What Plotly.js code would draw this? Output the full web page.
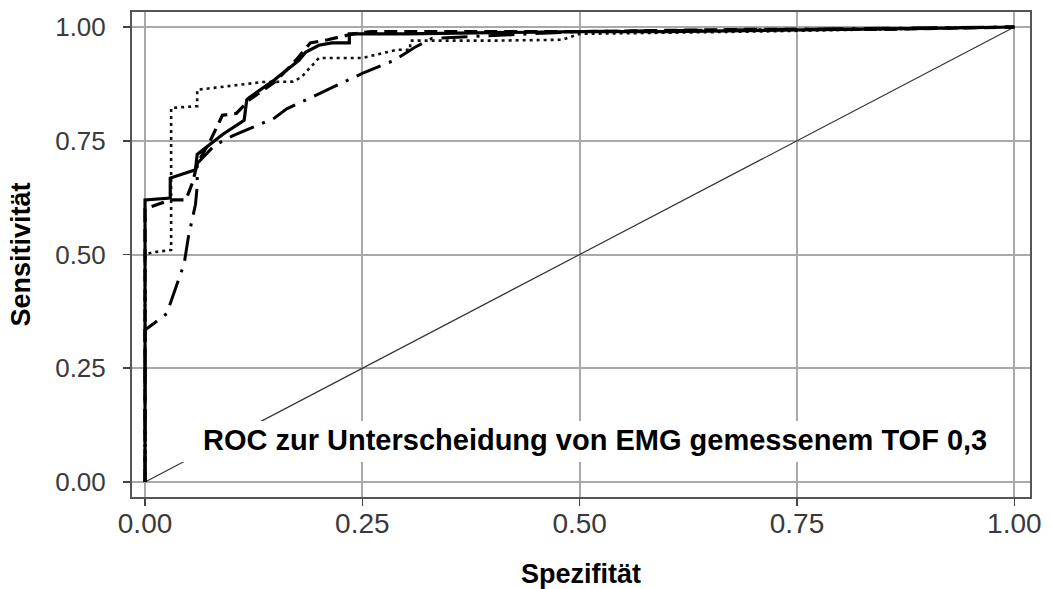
<!DOCTYPE html>
<html>
<head>
<meta charset="utf-8">
<script src="https://cdn.plot.ly/plotly-3.0.1.min.js"></script>
<style>html,body{margin:0;padding:0;background:#fff;}#chart{width:1052px;height:589px;}</style>
</head>
<body>
<div id="chart"></div>
<script>
// Tick values / labels
const tickVals = [0, 0.25, 0.5, 0.75, 1];
const tickText = ["0.00", "0.25", "0.50", "0.75", "1.00"];

// Curve 1: solid thick
const solidX = [0, 0, 0.029, 0.029, 0.058, 0.06, 0.08, 0.09, 0.114, 0.117, 0.12, 0.149, 0.177, 0.185, 0.2, 0.215, 0.235, 0.235, 0.3, 0.4, 0.5, 0.6, 0.7, 0.8, 0.9, 1];
const solidY = [0, 0.62, 0.624, 0.668, 0.686, 0.72, 0.75, 0.765, 0.795, 0.84, 0.845, 0.884, 0.927, 0.945, 0.96, 0.965, 0.965, 0.985, 0.985, 0.987, 0.99, 0.99, 0.993, 0.995, 0.997, 1];

// Curve 2: dashed thick
const dashX = [0, 0, 0.029, 0.047, 0.055, 0.06, 0.075, 0.089, 0.105, 0.12, 0.15, 0.175, 0.19, 0.21, 0.24, 0.26, 0.3, 0.5, 0.7, 0.85, 1];
const dashY = [0, 0.6, 0.62, 0.62, 0.66, 0.7, 0.75, 0.806, 0.81, 0.84, 0.88, 0.93, 0.965, 0.972, 0.985, 0.99, 0.99, 0.99, 0.995, 0.995, 1];

// Curve 3: dotted
const dotX = [0, 0, 0.01, 0.03, 0.03, 0.06, 0.06, 0.135, 0.17, 0.18, 0.2, 0.25, 0.29, 0.305, 0.305, 0.4, 0.48, 0.5, 0.7, 1];
const dotY = [0, 0.5, 0.505, 0.51, 0.822, 0.826, 0.862, 0.879, 0.88, 0.89, 0.932, 0.932, 0.95, 0.95, 0.97, 0.97, 0.972, 0.985, 0.99, 1];

// Curve 4: dash-dot
const dashDotX = [0, 0, 0.025, 0.045, 0.05, 0.058, 0.06, 0.06, 0.08, 0.1, 0.112, 0.149, 0.163, 0.18, 0.215, 0.252, 0.287, 0.31, 0.33, 0.5, 0.75, 1];
const dashDotY = [0, 0.334, 0.37, 0.48, 0.54, 0.61, 0.65, 0.7, 0.74, 0.76, 0.77, 0.8, 0.82, 0.835, 0.866, 0.9, 0.927, 0.955, 0.975, 0.99, 0.995, 1];

// Reference diagonal
const diagX = [0, 1];
const diagY = [0, 1];

const traces = [
  {x: diagX, y: diagY, mode: 'lines', line: {color: '#333', width: 1.2}, hoverinfo: 'skip'},
  {x: dashDotX, y: dashDotY, mode: 'lines', line: {color: '#000', width: 3, dash: '26px,9px,3px,9px'}},
  {x: dotX, y: dotY, mode: 'lines', line: {color: '#111', width: 2.6, dash: '3px,4px'}},
  {x: dashX, y: dashY, mode: 'lines', line: {color: '#000', width: 3.2, dash: '13px,7px'}},
  {x: solidX, y: solidY, mode: 'lines', line: {color: '#000', width: 3.2}}
];

const axisCommon = {
  tickvals: tickVals, ticktext: tickText,
  showgrid: true, gridcolor: '#a9a9a9', gridwidth: 2,
  zeroline: false,
  showline: true, mirror: true, linecolor: '#555', linewidth: 2,
  ticks: 'outside', ticklen: 7, tickwidth: 1.5, tickcolor: '#444'
};

const layout = {
  width: 1052, height: 589,
  margin: {l: 132, r: 22, t: 12, b: 92},
  paper_bgcolor: '#fff', plot_bgcolor: '#fff',
  showlegend: false,
  xaxis: Object.assign({}, axisCommon, {
    range: [-0.015, 1.018],
    tickfont: {family: 'Liberation Sans, Arial, sans-serif', size: 28, color: '#3a3a3a'},
    ticklabelstandoff: -7,
    title: {text: '<b>Spezifität</b>', font: {family: 'Liberation Sans, Arial, sans-serif', size: 27, color: '#000'}, standoff: 28}
  }),
  yaxis: Object.assign({}, axisCommon, {
    range: [-0.033, 1.033],
    tickfont: {family: 'Liberation Sans, Arial, sans-serif', size: 26, color: '#3a3a3a'},
    ticklabelstandoff: 12,
    title: {text: '<b>Sensitivität</b>', font: {family: 'Liberation Sans, Arial, sans-serif', size: 27, color: '#000'}, standoff: 17}
  }),
  shapes: [
    {type: 'rect', xref: 'x', yref: 'y', x0: 0.037, x1: 0.989, y0: 0.044, y1: 0.134,
     fillcolor: '#fff', line: {width: 0}, layer: 'above'}
  ],
  annotations: [
    {xref: 'x', yref: 'y', x: 0.518, y: 0.092, showarrow: false,
     text: '<b>ROC zur Unterscheidung von EMG gemessenem TOF 0,3</b>',
     font: {family: 'Liberation Sans, Arial, sans-serif', size: 29, color: '#000'}}
  ]
};

Plotly.newPlot('chart', traces, layout, {displayModeBar: false, staticPlot: true});
</script>
</body>
</html>
